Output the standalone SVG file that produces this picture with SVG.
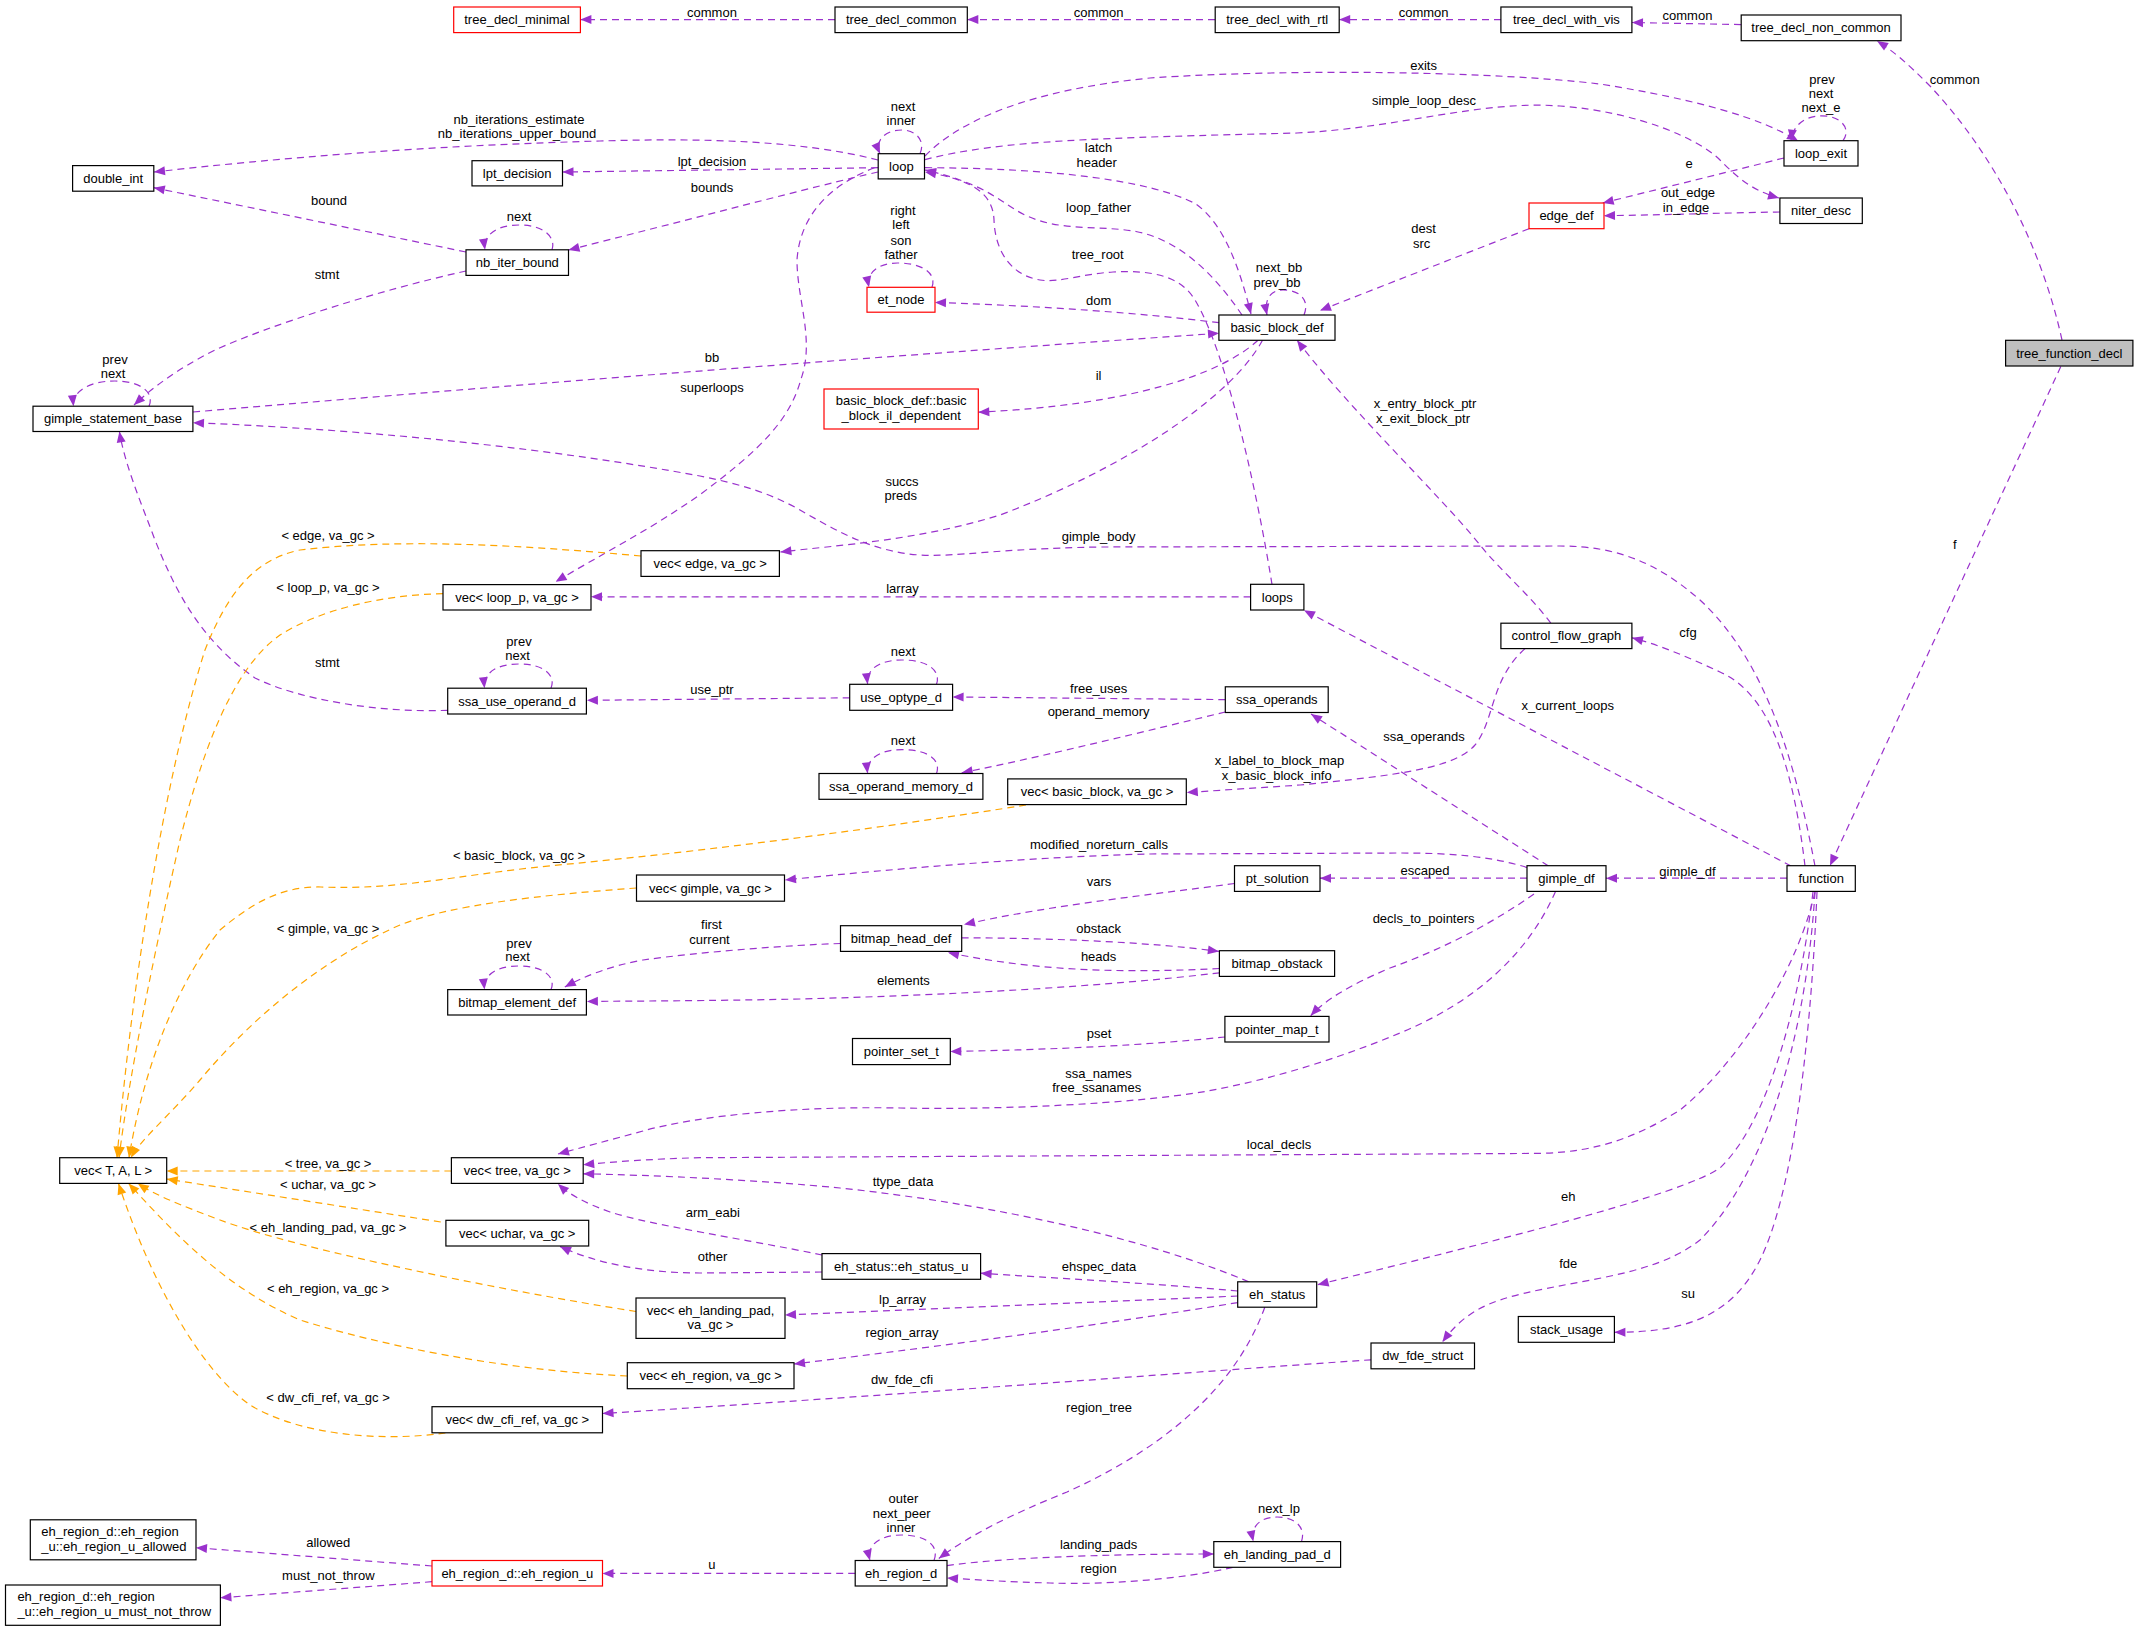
<svg xmlns="http://www.w3.org/2000/svg" width="2139" height="1631" viewBox="0 0 2139 1631">
<style>
text{font-family:"Liberation Sans",Arial,sans-serif;font-size:13px;fill:#000}
.n rect{fill:#fff;stroke:#000;stroke-width:1.2}
.n text{text-anchor:middle}
.r rect{stroke:#ff0000}
.g rect{fill:#bfbfbf}
.lt text{text-anchor:start}
#edges path{fill:none;stroke-width:1.2;stroke-dasharray:7,5}
.p{stroke:#9a32cd;marker-end:url(#ap)}
.o{stroke:#ffa500;marker-end:url(#ao)}
#labels text{text-anchor:middle}
</style>
<defs>
<marker id="ap" markerUnits="userSpaceOnUse" markerWidth="12" markerHeight="10" refX="11" refY="4.5" orient="auto" overflow="visible"><path d="M0,0 L11,4.5 L0,9 z" fill="#9a32cd"/></marker>
<marker id="ao" markerUnits="userSpaceOnUse" markerWidth="12" markerHeight="10" refX="11" refY="4.5" orient="auto" overflow="visible"><path d="M0,0 L11,4.5 L0,9 z" fill="#ffa500"/></marker>
</defs>
<rect width="2139" height="1631" fill="#fff"/>
<g id="edges">
<path class="p" d="M835,19.6 L580.4,19.6"/>
<path class="p" d="M1215,19.6 L967.3,19.6"/>
<path class="p" d="M1501,19.6 L1339.2,19.6"/>
<path class="p" d="M1741,24.6 L1632,22.5"/>
<path class="p" d="M2062,340 C2040,240 1990,150 1930,86 C1910,66 1895,52 1877,41"/>
<path class="p" d="M2060.8,366.6 L1830,865.7"/>
<path class="p" d="M878,160 C800,140 700,138 600,141 C420,146 280,158 154,172"/>
<path class="p" d="M878,167.7 L562.5,172"/>
<path class="p" d="M878,172 C820,185 680,222 568.5,250"/>
<path class="p" d="M552,249.8 C556,238 545,225 519,225 C495,225 483,236 485,249.8"/>
<path class="p" d="M466,252 L153.8,187.7"/>
<path class="p" d="M466,271 C380,290 270,325 215,350 C175,370 150,390 134,405"/>
<path class="p" d="M149,406.2 C155,392 140,381 115,381 C88,381 72,392 73.5,406.2"/>
<path class="p" d="M193,412 Q750,365 1219,333.3"/>
<path class="p" d="M1815,866 C1795,760 1765,660 1700,600 C1660,565 1620,546 1560,546 L1100,547 C990,549 960,557 920,555 C870,552 830,527 800,510 C770,493 740,484 700,476 C560,450 380,430 193,422.7"/>
<path class="p" d="M1805,866 C1790,740 1760,690 1720,672 C1690,658 1660,645 1632,637.8"/>
<path class="p" d="M1791,866 L1304,610.3"/>
<path class="p" d="M1787,878.2 L1606,878.2"/>
<path class="p" d="M1815,892 C1795,980 1730,1070 1680,1110 C1640,1135 1600,1152 1540,1153.4 L700,1157.7 C650,1159 610,1162 583.2,1164.8"/>
<path class="p" d="M1813,892 C1800,1000 1770,1120 1720,1168 C1680,1195 1500,1240 1317.6,1284.7"/>
<path class="p" d="M1815,892 C1805,1050 1760,1180 1700,1240 C1650,1280 1560,1280 1500,1300 C1470,1310 1455,1325 1442.4,1342"/>
<path class="p" d="M1817,892 C1810,1060 1790,1200 1760,1260 C1730,1320 1680,1332 1614.4,1332.3"/>
<path class="p" d="M1548.5,866 L1311,714"/>
<path class="p" d="M1525,648.6 C1490,680 1495,720 1475,745 C1455,768 1400,775 1300,785 L1186.8,792.5"/>
<path class="p" d="M1527,867.5 C1490,856 1450,853 1400,853 L1150,854 C1050,856 900,868 785,880"/>
<path class="p" d="M1527,878.2 L1320,878.2"/>
<path class="p" d="M1534,894 C1490,925 1440,950 1390,968 C1350,985 1325,1000 1310.7,1015.7"/>
<path class="p" d="M1555.5,891.4 C1530,950 1480,1000 1400,1033 C1340,1058 1270,1080 1205,1091.5 C1130,1104 1000,1110 900,1108 C800,1106 700,1115 643,1131 C610,1140 580,1148 558,1154"/>
<path class="p" d="M1234.5,883.5 C1150,895 1050,905 964,924.6"/>
<path class="p" d="M840.5,943.5 C790,945 700,952 643,960 C610,966 585,976 564.8,987"/>
<path class="p" d="M961.7,937.8 C1050,938 1150,942 1218.9,951.4"/>
<path class="p" d="M1219.4,968.5 C1130,973 1040,972 948,952.5"/>
<path class="p" d="M1219.4,972.8 C1100,987 950,995 800,999 C700,1001 640,1001 586.9,1001.4"/>
<path class="p" d="M551,989.6 C556,978 545,966 519,966 C495,966 483,976 484.5,989.6"/>
<path class="p" d="M1224.9,1037 C1150,1045 1050,1050 950.3,1051.4"/>
<path class="p" d="M1225.3,699.6 L952.6,697"/>
<path class="p" d="M1225.3,712 C1150,730 1050,755 961.7,772.8"/>
<path class="p" d="M936.5,684.3 C941,672 930,660 902,660 C878,660 866,670 867.6,684.3"/>
<path class="p" d="M936.5,773.5 C941,761 930,749.6 902,749.6 C878,749.6 866,760 867.6,773.5"/>
<path class="p" d="M849.7,697.8 L586.9,700.3"/>
<path class="p" d="M551,688.2 C556,676 545,664 519,664 C495,664 483,674 484.5,688.2"/>
<path class="p" d="M447.7,710.3 C380,713 300,700 255,678 C200,640 175,590 155,540 C140,500 125,465 119.4,431.5"/>
<path class="p" d="M874.5,167.7 C830,185 800,215 797,260 C797,300 815,340 801,379 C790,420 760,450 700,494.6 C650,530 600,555 555.6,581.8"/>
<path class="p" d="M1250.6,596.8 L591,596.8"/>
<path class="p" d="M1272,584.3 C1255,480 1225,350 1195,300 C1180,275 1150,270 1113,272 C1080,274 1060,283 1040,280 C1010,275 995,250 994,220 C993,195 975,180 925,172"/>
<path class="p" d="M925,167.7 C1050,168 1150,180 1196,204 C1225,225 1240,270 1251,314"/>
<path class="p" d="M1242,315 C1215,275 1180,240 1136,231.5 C1100,225 1060,232 1025,215 C1000,203 990,185 925,170"/>
<path class="p" d="M1304,315 C1310,300 1300,290 1283,290 C1270,290 1264,300 1267,315"/>
<path class="p" d="M1219,322.7 Q1100,308 935,302.4"/>
<path class="p" d="M1258,340.3 C1220,375 1130,405 978.3,412.2"/>
<path class="p" d="M1262.5,340.3 C1230,400 1120,470 1000,515 C920,540 840,545 780.4,552"/>
<path class="p" d="M1529,228.7 L1320,310.5"/>
<path class="p" d="M1784,158 L1602.7,203"/>
<path class="p" d="M1779.9,212 C1720,213 1660,215 1604,215.7"/>
<path class="p" d="M1843,140.7 C1852,128 1840,115.8 1821.8,115.8 C1805,115.8 1793,125 1791,140.7"/>
<path class="p" d="M925,156 C960,120 1030,90 1150,78 C1300,68 1500,72 1600,84 C1700,100 1760,118 1798,140.7"/>
<path class="p" d="M925,159.6 C1000,140 1100,138 1297,133 C1400,128 1480,100 1560,106 C1640,112 1700,140 1720,160 C1735,175 1750,190 1779,198"/>
<path class="p" d="M920,153.7 C926,140 915,130 902,130 C886,130 874,140 880,153.7"/>
<path class="p" d="M932,287.3 C937,273 922,263 897.5,263 C878,263 866,273 869,287.3"/>
<path class="p" d="M1248.7,1281.8 C1150,1240 1000,1205 840,1188 C760,1180 650,1175 583.2,1173.8"/>
<path class="p" d="M822,1255 C750,1240 650,1225 610,1212 C585,1203 570,1195 558,1184"/>
<path class="p" d="M822,1272 L700,1273 C650,1273 600,1265 560,1246.5"/>
<path class="p" d="M1237.7,1291 C1150,1283 1050,1278 980.6,1273.2"/>
<path class="p" d="M1237.7,1296 C1100,1302 900,1310 785,1315"/>
<path class="p" d="M1237.7,1302.6 C1100,1325 950,1345 794,1364"/>
<path class="p" d="M1264.8,1307.2 C1235,1390 1160,1450 1067,1492 C1010,1515 970,1535 938.8,1558.4"/>
<path class="p" d="M1371,1359.8 C1150,1375 900,1395 602.5,1413.5"/>
<path class="p" d="M855.2,1573.4 L602.5,1573.4"/>
<path class="p" d="M432,1566 L196,1547.7"/>
<path class="p" d="M432,1581.7 L220.4,1597.8"/>
<path class="p" d="M934,1560.5 C940,1545 925,1535 902,1535 C880,1535 866,1545 870,1560.5"/>
<path class="p" d="M947,1565.6 C1000,1558 1100,1554 1213.8,1554"/>
<path class="p" d="M1232.7,1567.3 C1180,1580 1100,1585 1050,1583 C1010,1582 980,1580 947,1578"/>
<path class="p" d="M1301.5,1541.6 C1306,1528 1296,1517 1277,1517 C1260,1517 1250,1527 1253.3,1541.6"/>
<path class="p" d="M1550.8,623.2 C1530,595 1500,570 1480,545 C1440,495 1350,410 1297,340.3"/>
<path class="o" d="M641,556 C520,545 400,538 300,550 C250,560 225,600 205,650 C170,760 135,950 117,1157.7"/>
<path class="o" d="M443,593.6 C380,595 320,610 280,635 C230,670 200,760 180,840 C155,950 130,1070 119,1157.7"/>
<path class="o" d="M1026,805 C900,825 720,850 551,865.7 C450,876 400,890 321,887 C280,886 250,905 220,930 C180,980 145,1060 129,1157.7"/>
<path class="o" d="M636.5,888 C540,895 450,905 400,925 C320,960 250,1020 200,1080 C170,1115 140,1140 131,1157.7"/>
<path class="o" d="M451.4,1171 L166.7,1171"/>
<path class="o" d="M440.8,1222 L166.7,1179"/>
<path class="o" d="M636,1311.5 C500,1290 300,1250 220,1220 C180,1205 155,1195 137.8,1183.4"/>
<path class="o" d="M627.3,1376 C500,1370 380,1345 300,1320 C230,1290 180,1240 128.6,1183.4"/>
<path class="o" d="M445.4,1433 C380,1442 300,1435 250,1405 C200,1370 150,1280 118.5,1183.4"/>
</g>
<g id="labels">
<text x="712" y="16.5">common</text>
<text x="1098.6" y="16.5">common</text>
<text x="1423.6" y="16.5">common</text>
<text x="1687.5" y="20.3">common</text>
<text x="1954.7" y="83.5">common</text>
<text x="1954.7" y="548.5">f</text>
<text x="1423.6" y="69.5">exits</text>
<text x="1424" y="105.2">simple_loop_desc</text>
<text x="1822" y="83.8">prev</text>
<text x="1821" y="97.5">next</text>
<text x="1821" y="112.2">next_e</text>
<text x="1689" y="168.3">e</text>
<text x="1688" y="196.5">out_edge</text>
<text x="1686" y="211.5">in_edge</text>
<text x="1423.6" y="233.2">dest</text>
<text x="1421.7" y="248.3">src</text>
<text x="903" y="110.5">next</text>
<text x="901" y="124.5">inner</text>
<text x="519" y="123.5">nb_iterations_estimate</text>
<text x="517" y="137.5">nb_iterations_upper_bound</text>
<text x="712" y="165.5">lpt_decision</text>
<text x="712" y="192.2">bounds</text>
<text x="1098.6" y="151.8">latch</text>
<text x="1096.7" y="166.9">header</text>
<text x="1098.6" y="211.5">loop_father</text>
<text x="903" y="215">right</text>
<text x="901" y="229">left</text>
<text x="901" y="244.5">son</text>
<text x="901" y="258.8">father</text>
<text x="1097.7" y="259.2">tree_root</text>
<text x="1279" y="272.2">next_bb</text>
<text x="1277" y="286.9">prev_bb</text>
<text x="1098.6" y="304.5">dom</text>
<text x="329" y="205.2">bound</text>
<text x="519" y="221.3">next</text>
<text x="327" y="279.2">stmt</text>
<text x="115" y="363.5">prev</text>
<text x="113" y="377.5">next</text>
<text x="712" y="361.5">bb</text>
<text x="712" y="391.5">superloops</text>
<text x="1098.6" y="379.5">il</text>
<text x="1425" y="407.9">x_entry_block_ptr</text>
<text x="1423" y="423">x_exit_block_ptr</text>
<text x="902" y="485.5">succs</text>
<text x="900.7" y="500.2">preds</text>
<text x="1098.6" y="541.2">gimple_body</text>
<text x="328" y="539.9">&lt; edge, va_gc &gt;</text>
<text x="328" y="591.5">&lt; loop_p, va_gc &gt;</text>
<text x="902.5" y="592.7">larray</text>
<text x="1688" y="637.3">cfg</text>
<text x="519" y="645.5">prev</text>
<text x="517.5" y="660.2">next</text>
<text x="903" y="656.3">next</text>
<text x="327.4" y="667.3">stmt</text>
<text x="712" y="693.5">use_ptr</text>
<text x="1098.6" y="693.1">free_uses</text>
<text x="1567.8" y="709.5">x_current_loops</text>
<text x="1098.6" y="716.3">operand_memory</text>
<text x="1424" y="741.3">ssa_operands</text>
<text x="903" y="745.2">next</text>
<text x="1279.5" y="765.2">x_label_to_block_map</text>
<text x="1276.8" y="780.2">x_basic_block_info</text>
<text x="1099" y="849.1">modified_noreturn_calls</text>
<text x="519" y="859.5">&lt; basic_block, va_gc &gt;</text>
<text x="1425" y="874.5">escaped</text>
<text x="1687.5" y="875.5">gimple_df</text>
<text x="1099" y="885.5">vars</text>
<text x="1423.6" y="923">decls_to_pointers</text>
<text x="711.5" y="929.1">first</text>
<text x="709.5" y="944.1">current</text>
<text x="328" y="932.5">&lt; gimple, va_gc &gt;</text>
<text x="1098.6" y="932.5">obstack</text>
<text x="519" y="947.5">prev</text>
<text x="517.5" y="961.2">next</text>
<text x="1098.6" y="960.9">heads</text>
<text x="903.4" y="985.2">elements</text>
<text x="1099" y="1037.5">pset</text>
<text x="1098.6" y="1077.5">ssa_names</text>
<text x="1096.7" y="1091.5">free_ssanames</text>
<text x="1279" y="1148.9">local_decls</text>
<text x="328" y="1167.5">&lt; tree, va_gc &gt;</text>
<text x="903" y="1185.5">ttype_data</text>
<text x="328" y="1189">&lt; uchar, va_gc &gt;</text>
<text x="1568.3" y="1201.2">eh</text>
<text x="712.8" y="1216.5">arm_eabi</text>
<text x="328" y="1231.9">&lt; eh_landing_pad, va_gc &gt;</text>
<text x="712.6" y="1260.9">other</text>
<text x="1568.3" y="1268.1">fde</text>
<text x="1099" y="1270.9">ehspec_data</text>
<text x="328" y="1292.8">&lt; eh_region, va_gc &gt;</text>
<text x="1688" y="1297.5">su</text>
<text x="902.5" y="1303.5">lp_array</text>
<text x="902" y="1336.5">region_array</text>
<text x="902" y="1384">dw_fde_cfi</text>
<text x="328" y="1401.9">&lt; dw_cfi_ref, va_gc &gt;</text>
<text x="1099" y="1411.5">region_tree</text>
<text x="903.4" y="1503.1">outer</text>
<text x="901.6" y="1517.5">next_peer</text>
<text x="901" y="1532.1">inner</text>
<text x="1279" y="1513.2">next_lp</text>
<text x="328.3" y="1546.8">allowed</text>
<text x="1098.6" y="1549.3">landing_pads</text>
<text x="711.8" y="1569.3">u</text>
<text x="1098.6" y="1573.3">region</text>
<text x="328.3" y="1580.1">must_not_throw</text>
</g>
<g id="n_tree_decl_minimal" class="n r"><rect x="453.7" y="7" width="126.7" height="25.6"/><text x="517" y="24.3">tree_decl_minimal</text></g>
<g id="n_tree_decl_common" class="n"><rect x="835" y="7" width="132.3" height="25.6"/><text x="901.2" y="24.3">tree_decl_common</text></g>
<g id="n_tree_decl_with_rtl" class="n"><rect x="1215.2" y="7" width="124" height="25.6"/><text x="1277.2" y="24.3">tree_decl_with_rtl</text></g>
<g id="n_tree_decl_with_vis" class="n"><rect x="1500.9" y="7" width="131" height="25.6"/><text x="1566.4" y="24.3">tree_decl_with_vis</text></g>
<g id="n_tree_decl_non_common" class="n"><rect x="1741.2" y="15" width="159.8" height="25.7"/><text x="1821.1" y="32.3">tree_decl_non_common</text></g>
<g id="n_loop" class="n"><rect x="878.2" y="153.7" width="46.3" height="25.2"/><text x="901.4" y="170.8">loop</text></g>
<g id="n_lpt_decision" class="n"><rect x="472" y="160.7" width="90.5" height="25.2"/><text x="517.2" y="177.8">lpt_decision</text></g>
<g id="n_double_int" class="n"><rect x="72.6" y="165.6" width="81.2" height="25.6"/><text x="113.2" y="182.9">double_int</text></g>
<g id="n_loop_exit" class="n"><rect x="1784" y="140.7" width="74" height="25.3"/><text x="1821" y="157.9">loop_exit</text></g>
<g id="n_edge_def" class="n r"><rect x="1529" y="203" width="75" height="25.7"/><text x="1566.5" y="220.4">edge_def</text></g>
<g id="n_niter_desc" class="n"><rect x="1779.9" y="198" width="82.4" height="25.5"/><text x="1821.1" y="215.3">niter_desc</text></g>
<g id="n_nb_iter_bound" class="n"><rect x="466" y="249.8" width="102.5" height="25.6"/><text x="517.3" y="267.1">nb_iter_bound</text></g>
<g id="n_et_node" class="n r"><rect x="867" y="287.3" width="68" height="24.9"/><text x="901" y="304.3">et_node</text></g>
<g id="n_basic_block_def" class="n"><rect x="1218.9" y="315" width="116.1" height="25.3"/><text x="1277" y="332.2">basic_block_def</text></g>
<g id="n_tree_function_decl" class="n g"><rect x="2005.6" y="340.3" width="127.3" height="25.7"/><text x="2069.3" y="357.7">tree_function_decl</text></g>
<g id="n_basic_block_il_dependent" class="n r"><rect x="824" y="389" width="154.3" height="40"/><text x="901.2" y="405.1">basic_block_def::basic</text><text x="901.2" y="420.2">_block_il_dependent</text></g>
<g id="n_gimple_statement_base" class="n"><rect x="33" y="406.2" width="159.9" height="25.3"/><text x="113" y="423.4">gimple_statement_base</text></g>
<g id="n_vec_edge" class="n"><rect x="641" y="550.7" width="138.4" height="25.7"/><text x="710.2" y="568">vec&lt; edge, va_gc &gt;</text></g>
<g id="n_vec_loop_p" class="n"><rect x="443" y="584.6" width="148" height="25.4"/><text x="517" y="601.8">vec&lt; loop_p, va_gc &gt;</text></g>
<g id="n_loops" class="n"><rect x="1250.6" y="584.3" width="53.3" height="25.7"/><text x="1277.3" y="601.7">loops</text></g>
<g id="n_control_flow_graph" class="n"><rect x="1500.9" y="623.2" width="131" height="25.4"/><text x="1566.4" y="640.4">control_flow_graph</text></g>
<g id="n_use_optype_d" class="n"><rect x="849.7" y="684.3" width="102.9" height="26"/><text x="901.2" y="701.8">use_optype_d</text></g>
<g id="n_ssa_operands" class="n"><rect x="1225.3" y="686.8" width="102.9" height="25.7"/><text x="1276.8" y="704.2">ssa_operands</text></g>
<g id="n_ssa_use_operand_d" class="n"><rect x="447.7" y="688.2" width="138.7" height="25.8"/><text x="517.1" y="705.6">ssa_use_operand_d</text></g>
<g id="n_ssa_operand_memory_d" class="n"><rect x="819" y="773.5" width="163.9" height="25.8"/><text x="901" y="790.9">ssa_operand_memory_d</text></g>
<g id="n_vec_basic_block" class="n"><rect x="1007.7" y="778.9" width="178.6" height="25.7"/><text x="1097" y="796.3">vec&lt; basic_block, va_gc &gt;</text></g>
<g id="n_gimple_df" class="n"><rect x="1527" y="865.7" width="79" height="25.7"/><text x="1566.5" y="883.1">gimple_df</text></g>
<g id="n_function" class="n"><rect x="1787" y="865.7" width="68.3" height="25.7"/><text x="1821.2" y="883.1">function</text></g>
<g id="n_pt_solution" class="n"><rect x="1234.5" y="865.7" width="85.5" height="25.7"/><text x="1277.3" y="883.1">pt_solution</text></g>
<g id="n_vec_gimple" class="n"><rect x="636.5" y="875" width="148" height="26.2"/><text x="710.5" y="892.6">vec&lt; gimple, va_gc &gt;</text></g>
<g id="n_bitmap_head_def" class="n"><rect x="840.5" y="925.7" width="121.2" height="25.7"/><text x="901.1" y="943.1">bitmap_head_def</text></g>
<g id="n_bitmap_obstack" class="n"><rect x="1219.4" y="950.7" width="115.2" height="25.7"/><text x="1277" y="968.1">bitmap_obstack</text></g>
<g id="n_bitmap_element_def" class="n"><rect x="447.7" y="989.6" width="138.7" height="25.4"/><text x="517.1" y="1006.8">bitmap_element_def</text></g>
<g id="n_pointer_map_t" class="n"><rect x="1224.9" y="1016.4" width="104.1" height="25.6"/><text x="1277" y="1033.7">pointer_map_t</text></g>
<g id="n_pointer_set_t" class="n"><rect x="852.5" y="1038.5" width="97.8" height="26.1"/><text x="901.4" y="1056.1">pointer_set_t</text></g>
<g id="n_vec_T_A_L" class="n"><rect x="59.7" y="1157.7" width="107" height="25.7"/><text x="113.2" y="1175.1">vec&lt; T, A, L &gt;</text></g>
<g id="n_vec_tree" class="n"><rect x="451.4" y="1157.7" width="131.8" height="25.7"/><text x="517.3" y="1175.1">vec&lt; tree, va_gc &gt;</text></g>
<g id="n_vec_uchar" class="n"><rect x="445.9" y="1220.3" width="142.8" height="25.7"/><text x="517.3" y="1237.7">vec&lt; uchar, va_gc &gt;</text></g>
<g id="n_eh_status_u" class="n"><rect x="822" y="1253.6" width="158.6" height="25.7"/><text x="901.3" y="1271">eh_status::eh_status_u</text></g>
<g id="n_eh_status" class="n"><rect x="1237.7" y="1281.8" width="79" height="25.4"/><text x="1277.2" y="1299">eh_status</text></g>
<g id="n_vec_eh_landing_pad" class="n"><rect x="636" y="1298" width="149" height="40.4"/><text x="710.5" y="1315.3">vec&lt; eh_landing_pad,</text><text x="710.5" y="1329.3">va_gc &gt;</text></g>
<g id="n_stack_usage" class="n"><rect x="1518.3" y="1316.5" width="96.1" height="25.8"/><text x="1566.4" y="1333.9">stack_usage</text></g>
<g id="n_dw_fde_struct" class="n"><rect x="1371" y="1343" width="103.5" height="25.8"/><text x="1422.8" y="1360.4">dw_fde_struct</text></g>
<g id="n_vec_eh_region" class="n"><rect x="627.3" y="1362.7" width="166.7" height="26"/><text x="710.7" y="1380.2">vec&lt; eh_region, va_gc &gt;</text></g>
<g id="n_vec_dw_cfi_ref" class="n"><rect x="432" y="1406.7" width="170.5" height="26.1"/><text x="517.3" y="1424.3">vec&lt; dw_cfi_ref, va_gc &gt;</text></g>
<g id="n_eh_region_u_allowed" class="n lt"><rect x="30.3" y="1519.8" width="165.7" height="40"/><text x="41.3" y="1536.1">eh_region_d::eh_region</text><text x="41.3" y="1551.1">_u::eh_region_u_allowed</text></g>
<g id="n_eh_landing_pad_d" class="n"><rect x="1213.8" y="1541.6" width="126.8" height="25.7"/><text x="1277.2" y="1559">eh_landing_pad_d</text></g>
<g id="n_eh_region_u" class="n r"><rect x="432" y="1560.5" width="170.5" height="25.5"/><text x="517.3" y="1577.8">eh_region_d::eh_region_u</text></g>
<g id="n_eh_region_d" class="n"><rect x="855.2" y="1560.5" width="91.8" height="25.5"/><text x="901.1" y="1577.8">eh_region_d</text></g>
<g id="n_eh_region_u_must_not_throw" class="n lt"><rect x="5.5" y="1585" width="214.9" height="40.3"/><text x="17.4" y="1601.2">eh_region_d::eh_region</text><text x="17.4" y="1616.2">_u::eh_region_u_must_not_throw</text></g>
</svg>
